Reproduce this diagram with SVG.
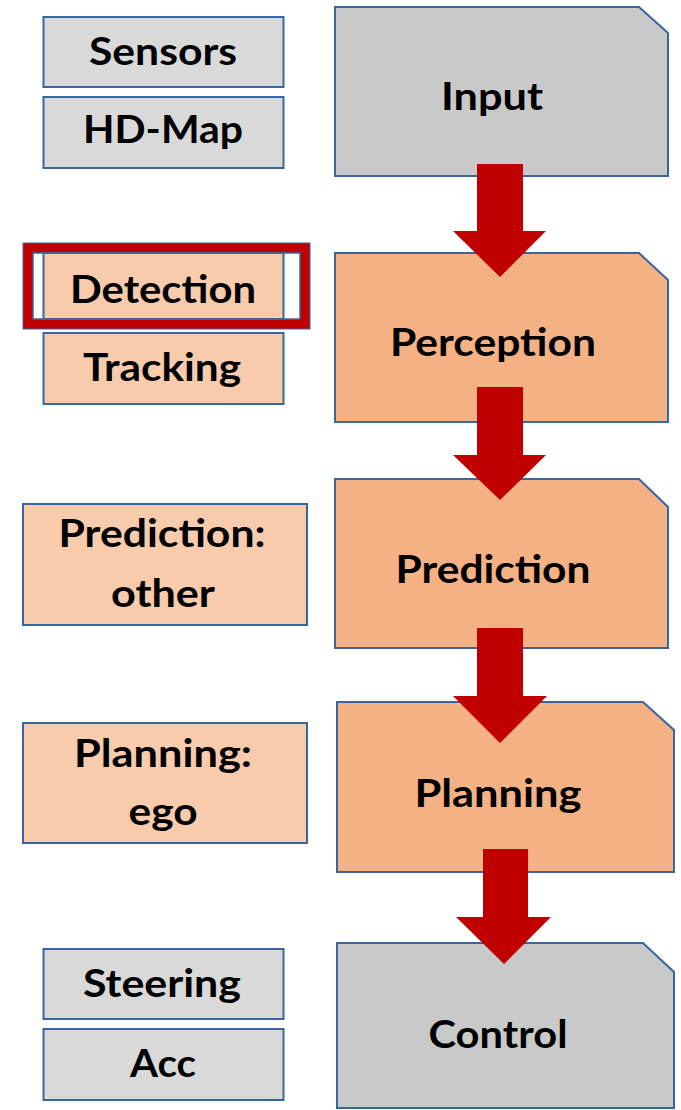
<svg xmlns="http://www.w3.org/2000/svg" width="681" height="1110" viewBox="0 0 681 1110">
<style>
.b{stroke:#3a66a0;stroke-width:2}
.g1{fill:#d9d9d9}
.g2{fill:#c9c9c9}
.o1{fill:#f8cbad}
.o2{fill:#f4b183}
.t{font-family:Lato,"Open Sans","Liberation Sans",sans-serif;font-weight:bold;font-size:39px;fill:#000;text-anchor:middle}
.a{fill:#c00000}
</style>
<rect width="681" height="1110" fill="#fff"/>
<g id="sensors"><rect class="b g1" x="43.5" y="17" width="240" height="70"/><text class="t" x="163" y="65" textLength="148" lengthAdjust="spacingAndGlyphs">Sensors</text></g>
<g id="hdmap"><rect class="b g1" x="43.5" y="97" width="240" height="71"/><text class="t" x="163" y="143" textLength="160" lengthAdjust="spacingAndGlyphs">HD-Map</text></g>
<g id="input"><path class="b g2" d="M335 7H639L668 33V176H335Z"/><text class="t" x="492" y="110" textLength="102" lengthAdjust="spacingAndGlyphs">Input</text></g>
<g id="detection">
<rect x="28" y="248" width="277" height="76" fill="#fff" stroke="#c00000" stroke-width="10"/>
<rect x="23" y="243" width="287" height="86" fill="none" stroke="#3a66a0" stroke-width="1"/>
<rect x="33" y="253" width="267" height="66" fill="none" stroke="#3a66a0" stroke-width="1.5"/>
<rect class="b o1" x="43.5" y="253" width="240" height="66"/>
<text class="t" x="163" y="303" textLength="186" lengthAdjust="spacingAndGlyphs">Detection</text></g>
<g id="tracking"><rect class="b o1" x="43.5" y="333" width="240" height="71"/><text class="t" x="162" y="381" textLength="158" lengthAdjust="spacingAndGlyphs">Tracking</text></g>
<g id="perception"><path class="b o2" d="M335 253H639L668 280V422H335Z"/><text class="t" x="493" y="356" textLength="206" lengthAdjust="spacingAndGlyphs">Perception</text></g>
<g id="prediction-other"><rect class="b o1" x="23" y="504" width="284" height="121"/><text class="t" x="162" y="547" textLength="207" lengthAdjust="spacingAndGlyphs">Prediction:</text><text class="t" x="163" y="607" textLength="104" lengthAdjust="spacingAndGlyphs">other</text></g>
<g id="prediction"><path class="b o2" d="M335 479H639L668 507V648H335Z"/><text class="t" x="493" y="583" textLength="195" lengthAdjust="spacingAndGlyphs">Prediction</text></g>
<g id="planning-ego"><rect class="b o1" x="23" y="723" width="284" height="120"/><text class="t" x="163" y="767" textLength="178" lengthAdjust="spacingAndGlyphs">Planning:</text><text class="t" x="163" y="825" textLength="69" lengthAdjust="spacingAndGlyphs">ego</text></g>
<g id="planning"><path class="b o2" d="M337 702H643L674 730V872H337Z"/><text class="t" x="498" y="807" textLength="167" lengthAdjust="spacingAndGlyphs">Planning</text></g>
<g id="steering"><rect class="b g1" x="43.5" y="949" width="240" height="70"/><text class="t" x="162" y="997" textLength="158" lengthAdjust="spacingAndGlyphs">Steering</text></g>
<g id="acc"><rect class="b g1" x="43.5" y="1029" width="240" height="71"/><text class="t" x="163" y="1077" textLength="66" lengthAdjust="spacingAndGlyphs">Acc</text></g>
<g id="control"><path class="b g2" d="M337 943H643L674 972V1108H337Z"/><text class="t" x="498" y="1048" textLength="139" lengthAdjust="spacingAndGlyphs">Control</text></g>
<g id="connectors">
<path class="a" d="M477 164H523V231H546L500 277L453 231H477Z"/>
<path class="a" d="M477 387H523V455H546L500 500L453 455H477Z"/>
<path class="a" d="M477 628H523V696H547L500 743L453 696H477Z"/>
<path class="a" d="M483 849H528V917H551L504 964L456 917H483Z"/>
</g>
</svg>
